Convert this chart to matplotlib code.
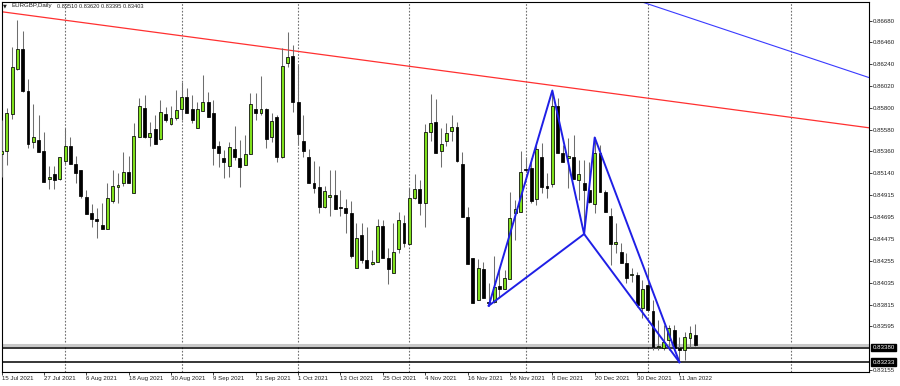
import matplotlib
matplotlib.use("Agg")
import numpy as np
import matplotlib.pyplot as plt
import matplotlib.transforms as mtransforms

plt.rcParams['font.family'] = ['Liberation Sans', 'DejaVu Sans']

# --------------------------DATA-------------------------------------------
# EURGBP daily candles, bar 0 = 15 Jul 2021 ... bar 131 = 14 Jan 2022
opens = [
    0.85330, 0.85363, 0.85734, 0.86188, 0.86390, 0.85972, 0.85457, 0.85474, 0.85363, 0.85078,
    0.85128, 0.85078, 0.85266, 0.85414, 0.85232, 0.85172, 0.84896, 0.84741, 0.84677, 0.84617,
    0.84576, 0.84862, 0.85003, 0.85038, 0.85148, 0.84937, 0.85508, 0.85794, 0.85508, 0.85582,
    0.85482, 0.85737, 0.85636, 0.85693, 0.85784, 0.85911, 0.85784, 0.85592, 0.85770, 0.85855,
    0.85744, 0.85417, 0.85296, 0.85215, 0.85381, 0.85296, 0.85222, 0.85330, 0.85784, 0.85744,
    0.85784, 0.85502, 0.85710, 0.85306, 0.86248, 0.86325, 0.85861, 0.85467, 0.85300, 0.85038,
    0.84997, 0.84801, 0.84896, 0.84919, 0.84795, 0.84791, 0.84741, 0.84180, 0.84516, 0.84264,
    0.84223, 0.84240, 0.84610, 0.84287, 0.84129, 0.84372, 0.84640, 0.84422, 0.84892, 0.84977,
    0.84836, 0.85552, 0.85653, 0.85366, 0.85464, 0.85565, 0.85609, 0.85232, 0.84694, 0.84281,
    0.83860, 0.84170, 0.83843, 0.83843, 0.84001, 0.83971, 0.84069, 0.84735, 0.84751, 0.85179,
    0.85189, 0.84879, 0.85300, 0.85010, 0.85030, 0.85818, 0.85340, 0.85290, 0.85300, 0.85071,
    0.85038, 0.84970, 0.84829, 0.85346, 0.84947, 0.84711, 0.84422, 0.84347, 0.84236, 0.84109,
    0.84112, 0.83782, 0.84011, 0.83749, 0.83383, 0.83373, 0.83456, 0.83557, 0.83373, 0.83355,
    0.83474, 0.83510]
highs = [
    0.85676, 0.85794, 0.86410, 0.86685, 0.86577, 0.86090, 0.85835, 0.85724, 0.85552, 0.85215,
    0.85215, 0.85303, 0.85592, 0.85505, 0.85316, 0.85172, 0.84970, 0.84826, 0.84785, 0.84836,
    0.85038, 0.85172, 0.85138, 0.85356, 0.85316, 0.85643, 0.85895, 0.85928, 0.85659, 0.85727,
    0.85878, 0.85810, 0.85818, 0.85979, 0.86063, 0.85996, 0.85928, 0.85861, 0.86130, 0.85962,
    0.85878, 0.85464, 0.85374, 0.85457, 0.85616, 0.85474, 0.85525, 0.85946, 0.85946, 0.86120,
    0.85797, 0.85744, 0.85727, 0.86400, 0.86567, 0.86433, 0.86231, 0.85727, 0.85381, 0.85263,
    0.85215, 0.85010, 0.85172, 0.85172, 0.84970, 0.84876, 0.84859, 0.84634, 0.84634, 0.84600,
    0.84365, 0.84674, 0.84667, 0.84382, 0.84640, 0.84751, 0.84718, 0.84993, 0.85131, 0.85071,
    0.85636, 0.85939, 0.85888, 0.85592, 0.85643, 0.85727, 0.85659, 0.85356, 0.84801, 0.84281,
    0.84271, 0.84246, 0.84029, 0.84304, 0.84170, 0.84163, 0.84953, 0.84869, 0.85366, 0.85306,
    0.85290, 0.85457, 0.85441, 0.85138, 0.85974, 0.85895, 0.85424, 0.85492, 0.85525, 0.85273,
    0.85273, 0.85255, 0.85500, 0.85424, 0.84970, 0.84788, 0.84634, 0.84432, 0.84331, 0.84180,
    0.84146, 0.84062, 0.84180, 0.83860, 0.83658, 0.83608, 0.83608, 0.83608, 0.83490, 0.83540,
    0.83598, 0.83620]
lows = [
    0.85104, 0.85222, 0.85683, 0.86181, 0.85959, 0.85391, 0.85391, 0.85350, 0.85048, 0.84977,
    0.84980, 0.85071, 0.85232, 0.85229, 0.85038, 0.84892, 0.84725, 0.84600, 0.84483, 0.84576,
    0.84576, 0.84836, 0.84836, 0.85013, 0.85038, 0.84937, 0.85508, 0.85492, 0.85414, 0.85434,
    0.85474, 0.85659, 0.85626, 0.85676, 0.85676, 0.85750, 0.85643, 0.85592, 0.85770, 0.85710,
    0.85222, 0.85205, 0.85088, 0.85098, 0.85273, 0.85003, 0.85222, 0.85330, 0.85676, 0.85727,
    0.85397, 0.85457, 0.85255, 0.85293, 0.86214, 0.85760, 0.85424, 0.85306, 0.85044, 0.84937,
    0.84735, 0.84785, 0.84708, 0.84775, 0.84708, 0.84539, 0.84287, 0.84180, 0.84230, 0.84186,
    0.84213, 0.84240, 0.84281, 0.84018, 0.84129, 0.84337, 0.84398, 0.84422, 0.84876, 0.84718,
    0.84600, 0.85467, 0.85340, 0.85199, 0.85417, 0.85467, 0.85249, 0.84694, 0.84223, 0.83833,
    0.83860, 0.83883, 0.83803, 0.83827, 0.83883, 0.83971, 0.84069, 0.84465, 0.84751, 0.85152,
    0.84836, 0.84819, 0.84937, 0.84886, 0.84997, 0.85346, 0.85255, 0.84987, 0.85078, 0.84869,
    0.84526, 0.84836, 0.84735, 0.84953, 0.84745, 0.84213, 0.84331, 0.84230, 0.84029, 0.84047,
    0.83792, 0.83675, 0.83759, 0.83355, 0.83355, 0.83355, 0.83355, 0.83355, 0.83233, 0.83255,
    0.83389, 0.83395]
closes = [
    0.85363, 0.85744, 0.86208, 0.86390, 0.85972, 0.85431, 0.85502, 0.85350, 0.85048, 0.85104,
    0.85071, 0.85300, 0.85414, 0.85229, 0.85138, 0.84912, 0.84725, 0.84674, 0.84660, 0.84576,
    0.84886, 0.85010, 0.85020, 0.85148, 0.85038, 0.85518, 0.85821, 0.85502, 0.85542, 0.85434,
    0.85754, 0.85676, 0.85699, 0.85777, 0.85905, 0.85750, 0.85676, 0.85784, 0.85855, 0.85710,
    0.85397, 0.85340, 0.85255, 0.85407, 0.85306, 0.85205, 0.85330, 0.85838, 0.85744, 0.85784,
    0.85482, 0.85666, 0.85300, 0.86224, 0.86315, 0.85861, 0.85532, 0.85366, 0.85044, 0.84987,
    0.84801, 0.84960, 0.84919, 0.84775, 0.84788, 0.84735, 0.84304, 0.84483, 0.84264, 0.84186,
    0.84240, 0.84610, 0.84281, 0.84170, 0.84341, 0.84667, 0.84432, 0.84892, 0.84977, 0.84836,
    0.85552, 0.85643, 0.85340, 0.85431, 0.85548, 0.85609, 0.85266, 0.84694, 0.84223, 0.83833,
    0.84186, 0.83883, 0.83827, 0.83988, 0.83968, 0.84079, 0.84684, 0.84775, 0.85148, 0.85172,
    0.84859, 0.85381, 0.84997, 0.84993, 0.85818, 0.85346, 0.85255, 0.85313, 0.85078, 0.85131,
    0.84970, 0.84852, 0.85340, 0.84953, 0.84745, 0.84422, 0.84442, 0.84236, 0.84079, 0.84122,
    0.83810, 0.83968, 0.83759, 0.83389, 0.83399, 0.83439, 0.83574, 0.83373, 0.83355, 0.83490,
    0.83530, 0.83403]

date_labels = ["15 Jul 2021", "27 Jul 2021", "6 Aug 2021", "18 Aug 2021", "30 Aug 2021",
               "9 Sep 2021", "21 Sep 2021", "1 Oct 2021", "13 Oct 2021", "25 Oct 2021",
               "4 Nov 2021", "16 Nov 2021", "26 Nov 2021", "8 Dec 2021", "20 Dec 2021",
               "30 Dec 2021", "11 Jan 2022"]
LABEL_STEP = 8                                   # one date label every 8 bars
month_start_bars = [12, 34, 56, 77, 99, 122, 149]  # dotted separators

price_ticks = [0.86680, 0.86460, 0.86240, 0.86020, 0.85800, 0.85580, 0.85360, 0.85140,
               0.84915, 0.84695, 0.84475, 0.84255, 0.84035, 0.83815, 0.83595, 0.83155]

# harmonic pattern X, A, B, C, D  (bar, price)
pat_bars = [92, 104, 110, 112, 128]
pat_prices = [0.83803, 0.85974, 0.84526, 0.85500, 0.83233]

# trend lines, two anchor points each (bar, price)
red_trend = [(0, 0.86769), (160, 0.85625)]
blue_trend = [(130, 0.86706), (160, 0.86172)]

bid_price = 0.83403
hline_prices = [0.83380, 0.83233]
header = "EURGBP,Daily"
ohlc_text = "0.83510 0.83620 0.83395 0.83403"
#---------------------------------------------------------------------------

o = np.array(opens); h = np.array(highs); l = np.array(lows); c = np.array(closes)
x = np.arange(len(o))
up = c >= o

W, H = 900, 386
fig = plt.figure(figsize=(W / 100, H / 100), dpi=100)
ax = fig.add_axes([1.5 / W, 1 - 372 / H, 867.5 / W, (372 - 1.7) / H])
ax.set_xlim(0.02, 163.79)
ax.set_ylim(0.83134, 0.86870)

# month separators
for b in month_start_bars:
    ax.axvline(b, color="#707070", lw=0.8, ls=(0, (1.5, 1.5)), zorder=1)

# bid line + horizontal levels
ax.axhline(bid_price, color="#c8c8c8", lw=2.2, zorder=1)
for p in hline_prices:
    ax.axhline(p, color="black", lw=1.1, zorder=2)

# trend lines
ax.axline(red_trend[0], red_trend[1], color="#ff3030", lw=0.9, zorder=2)
ax.axline(blue_trend[0], blue_trend[1], color="#3a3aff", lw=0.8, zorder=2)

# candles
ax.vlines(x, l, h, color="#6e6e6e", lw=0.75, zorder=3)
body_h = np.maximum(np.abs(c - o), 0.00003)
ax.bar(x[up], body_h[up], bottom=np.minimum(o, c)[up], width=0.55,
       color="#7fe01c", edgecolor="black", lw=0.55, zorder=4)
ax.bar(x[~up], body_h[~up], bottom=np.minimum(o, c)[~up], width=0.55,
       color="black", edgecolor="black", lw=0.55, zorder=4)

# XABCD pattern
pb, pp = pat_bars, pat_prices
ax.plot(pb, pp, color="#1f1fe6", lw=1.4, zorder=5)
ax.plot([pb[0], pb[2]], [pp[0], pp[2]], color="#1f1fe6", lw=1.4, zorder=5)
ax.plot([pb[2], pb[4]], [pp[2], pp[4]], color="#1f1fe6", lw=1.4, zorder=5)

# axes styling
for s in ax.spines.values():
    s.set_color("black"); s.set_linewidth(0.8)
ax.yaxis.tick_right()
ax.set_yticks(price_ticks)
ax.set_yticklabels([f"{p:.5f}" for p in price_ticks])
ax.tick_params(axis="y", direction="out", length=1.8, width=0.6, pad=1.2,
               labelsize=4.4, colors="#202020")
ticks_x = [i * LABEL_STEP for i in range(len(date_labels))]
ax.set_xticks(ticks_x)
ax.set_xticklabels(date_labels, ha="left")
ax.tick_params(axis="x", direction="out", length=1.8, width=0.6, pad=1.0,
               labelsize=4.4, colors="#202020")

# price label boxes on the right
trans = mtransforms.blended_transform_factory(ax.transAxes, ax.transData)
trans = mtransforms.offset_copy(trans, fig=fig, x=3.5, y=0, units="dots")
for p in hline_prices:
    ax.text(1.0, p, f"{p:.5f}", transform=trans, ha="left", va="center",
            fontsize=4.4, color="white", clip_on=False, zorder=10,
            bbox=dict(facecolor="black", edgecolor="black", pad=0.9))

# header
fig.text(3 / W, 1 - 6 / H, "\u25bc", fontsize=3.6, va="center", ha="left",
         color="#202020", family=["DejaVu Sans"])
fig.text(11 / W, 1 - 6 / H, header, fontsize=4.4, va="center", ha="left", color="#202020")
fig.text(57 / W, 1 - 6 / H, ohlc_text, fontsize=4.1, va="center", ha="left", color="#202020")

fig.savefig("out.png", dpi=100)
